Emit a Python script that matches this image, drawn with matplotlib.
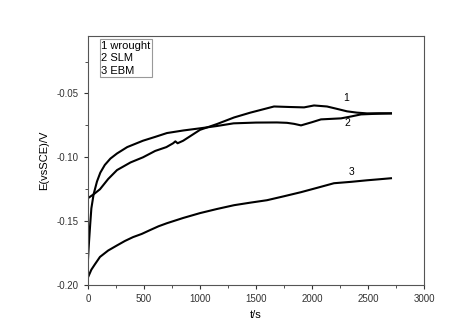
import numpy as np
import matplotlib.pyplot as plt
from matplotlib.ticker import MultipleLocator

plt.rcParams['font.family'] = ['Liberation Sans', 'DejaVu Sans']

# curve 1 - wrought
t1 = [0, 50, 107, 180, 259, 380, 491, 600, 700, 760, 780, 800, 850, 1000, 1150, 1304,
      1450, 1661, 1800, 1929, 2018, 2134, 2220, 2313, 2400, 2491, 2600, 2705]
e1 = [-0.132, -0.129, -0.125, -0.117, -0.110, -0.104, -0.100, -0.095, -0.092, -0.089,
      -0.0875, -0.089, -0.087, -0.0785, -0.074, -0.0688, -0.065, -0.0602, -0.0606, -0.0609,
      -0.0594, -0.0602, -0.062, -0.064, -0.065, -0.0656, -0.0655, -0.0656]

# curve 2 - SLM
t2 = [0, 5, 10, 20, 30, 50, 80, 110, 150, 200, 259, 350, 491, 600, 705, 850, 1000,
      1150, 1300, 1500, 1688, 1777, 1840, 1902, 2000, 2080, 2259, 2350, 2438, 2550, 2705]
e2 = [-0.180, -0.172, -0.165, -0.152, -0.140, -0.129, -0.119, -0.112, -0.106, -0.101,
      -0.097, -0.092, -0.087, -0.084, -0.081, -0.079, -0.0773, -0.0755, -0.0734, -0.0728,
      -0.0727, -0.073, -0.0738, -0.075, -0.0725, -0.0703, -0.0695, -0.068, -0.0664, -0.066,
      -0.0656]

# curve 3 - EBM
t3 = [0, 30, 60, 107, 180, 259, 330, 402, 480, 554, 630, 705, 850, 1000, 1150, 1304,
      1450, 1598, 1750, 1902, 2050, 2196, 2350, 2491, 2600, 2705]
e3 = [-0.194, -0.188, -0.184, -0.178, -0.173, -0.169, -0.1655, -0.1625, -0.160, -0.157,
      -0.154, -0.1516, -0.1475, -0.1437, -0.1405, -0.1375, -0.1355, -0.1336, -0.1305,
      -0.1273, -0.1238, -0.1203, -0.1192, -0.118, -0.1172, -0.1164]

curve_labels = ['1', '2', '3']
label_pos = [(2304, -0.0535), (2312, -0.0734), (2357, -0.1117)]
legend_text = '1 wrought\n2 SLM\n3 EBM'

fig = plt.figure(figsize=(4.68, 3.31), dpi=100)
ax = fig.add_axes([88/468, 1 - 285/331, (424-88)/468, (285-36)/331])

for t, e in [(t1, e1), (t2, e2), (t3, e3)]:
    ax.plot(t, e, color='black', lw=1.5)

for lab, (x, y) in zip(curve_labels, label_pos):
    ax.text(x, y, lab, fontsize=7.5, ha='center', va='center')

ax.text(0.04, 0.98, legend_text, transform=ax.transAxes, fontsize=8,
        va='top', ha='left', linespacing=1.3,
        bbox=dict(boxstyle='square,pad=0.15', fc='white', ec='#999999', lw=0.8))

ax.set_xlim(0, 3000)
ax.set_ylim(-0.20, -0.005)
ax.xaxis.set_major_locator(MultipleLocator(500))
ax.xaxis.set_minor_locator(MultipleLocator(250))
ax.yaxis.set_major_locator(MultipleLocator(0.05))
ax.yaxis.set_minor_locator(MultipleLocator(0.025))
ax.yaxis.set_major_formatter(plt.FuncFormatter(lambda v, p: f'{v:.2f}'))
ax.tick_params(which='both', direction='out', labelsize=7, colors='#333333')
ax.tick_params(which='major', length=3)
ax.tick_params(which='minor', length=2)
for s in ax.spines.values():
    s.set_color('#555555')
ax.set_xlabel('t/s', fontsize=8)
ax.set_ylabel('E(vsSCE)/V', fontsize=8, labelpad=6)

fig.savefig('out.png', dpi=100)
